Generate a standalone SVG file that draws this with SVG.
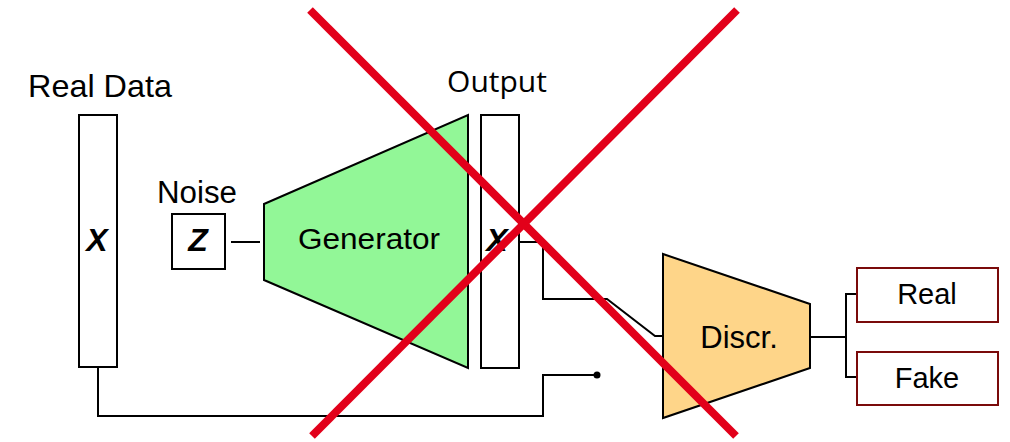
<svg xmlns="http://www.w3.org/2000/svg" width="1010" height="442" viewBox="0 0 1010 442">
<style>
.ln{fill:none;stroke:#000;stroke-width:2}
.box{fill:#fff;stroke:#000;stroke-width:2}
.out{fill:#fff;stroke:#7a0a0a;stroke-width:2}
.t{font-family:"Liberation Sans",Arial,sans-serif;font-size:30px;fill:#000;text-anchor:middle}
.v{font-family:"Liberation Sans",Arial,sans-serif;font-size:32px;font-style:italic;font-weight:bold;fill:#000;text-anchor:middle}
.cross{stroke:#e2001a;stroke-width:8;fill:none}
</style>
<rect width="1010" height="442" fill="#fff"/>
<g id="connectors">
<polyline class="ln" points="98,367 98,416 543,416 543,375 597,375"/>
<circle cx="597" cy="375" r="3.5" fill="#000"/>
<line class="ln" x1="231" y1="242" x2="260" y2="242"/>
<polyline class="ln" points="519,242 543,242 543,299 607,299 655,336 663,336"/>
<line class="ln" x1="810" y1="337" x2="846" y2="337"/>
<polyline class="ln" points="858,294 846,294 846,377 858,377"/>
</g>
<g id="realdata">
<text class="t" x="100" y="97" style="font-size:32px" textLength="144" lengthAdjust="spacingAndGlyphs">Real Data</text>
<rect class="box" x="79" y="115" width="38" height="252"/>
<text class="v" x="97" y="251">X</text>
</g>
<g id="noise">
<text class="t" x="197" y="203" style="font-size:31px" textLength="80" lengthAdjust="spacingAndGlyphs">Noise</text>
<rect class="box" x="172" y="214" width="53" height="55"/>
<text class="v" x="198" y="251">Z</text>
</g>
<g id="generator">
<polygon points="264,204 468,115 468,368 264,280" fill="#92f797" stroke="#000" stroke-width="2"/>
<text class="t" x="369" y="249" style="font-size:29px" textLength="142" lengthAdjust="spacingAndGlyphs">Generator</text>
</g>
<g id="output">
<text class="t" x="497" y="92" style="font-family:'Open Sans',sans-serif;font-size:30px">Output</text>
<rect class="box" x="481" y="115" width="38" height="253"/>
<text class="v" x="497" y="251">X</text>
</g>
<g id="discr">
<polygon points="663,254 810,304 810,368 663,418" fill="#fed589" stroke="#000" stroke-width="2"/>
<text class="t" x="739" y="348" style="font-size:31px">Discr.</text>
</g>
<g id="real">
<rect class="out" x="857" y="268" width="141" height="54"/>
<text class="t" x="927" y="304" style="font-size:29px">Real</text>
</g>
<g id="fake">
<rect class="out" x="857" y="352" width="141" height="53"/>
<text class="t" x="927" y="388" style="font-size:29px">Fake</text>
</g>
<g id="cross">
<line class="cross" x1="310" y1="10" x2="736" y2="436"/>
<line class="cross" x1="737" y1="10" x2="312" y2="436"/>
</g>
</svg>
